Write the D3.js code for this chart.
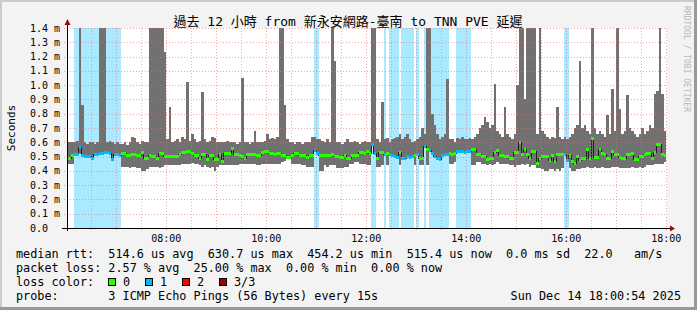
<!DOCTYPE html>
<html>
<head>
<meta charset="utf-8">
<script src="https://cdn.jsdelivr.net/npm/d3@7"></script>
<style>
	html, body { margin: 0; padding: 0; background: #f3f3f3; }
	svg text { font-family: "DejaVu Sans Mono", "Noto Sans CJK TC", monospace; white-space: pre; }
</style>
</head>
<body>
<svg id="chart" width="697" height="310"></svg>
<script>
// 3 minute steps, 06:00 -> 18:00 (240 samples), values in ms
var median = [
	.49,.49,.51,.518,.518,.567,.505,.50,.50,.50,.49,.513,.513,.525,.525,.53,.53,.525,.479,.513,
	.513,.51,.52,.52,.51,.51,.518,.518,.51,.51,.53,.49,.49,.51,.50,.50,.49,.52,.52,.50,
	.50,.50,.50,.50,.50,.518,.53,.53,.537,.537,.525,.505,.505,.49,.518,.518,.479,.505,.505,.48,
	.48,.518,.467,.52,.52,.52,.555,.518,.518,.51,.50,.49,.518,.518,.518,.518,.51,.51,.53,.537,
	.537,.525,.525,.518,.525,.525,.51,.51,.494,.494,.51,.525,.525,.51,.51,.51,.494,.505,.505,.54,
	.52,.51,.51,.51,.51,.51,.518,.50,.50,.494,.494,.51,.49,.49,.51,.51,.51,.53,.53,.525,
	.537,.525,.583,.52,.49,.53,.53,.515,.52,.515,.51,.50,.495,.53,.49,.49,.50,.495,.50,.51,
	.515,.49,.49,.57,.55,.54,.52,.50,.49,.48,.51,.515,.515,.525,.515,.52,.535,.535,.535,.53,
	.535,.535,.55,.548,.513,.518,.502,.502,.479,.485,.49,.532,.54,.509,.509,.502,.502,.49,.49,.532,
	.532,.60,.513,.548,.518,.49,.537,.537,.455,.485,.502,.502,.502,.472,.509,.467,.513,.513,.513,.513,
	.472,.509,.467,.455,.502,.472,.49,.49,.548,.485,.625,.495,.495,.548,.525,.518,.49,.49,.537,.513,
	.518,.495,.49,.49,.513,.513,.525,.479,.479,.502,.502,.513,.525,.525,.49,.532,.588,.588,.518,.509
];

var smokeLo = [
	.45,.45,.45,.518,.515,.52,.505,.50,.50,.50,.49,.513,.51,.52,.52,.53,.53,.52,.479,.51,
	.51,.51,.43,.43,.43,.42,.43,.43,.42,.42,.40,.40,.41,.43,.43,.43,.43,.42,.43,.44,
	.44,.44,.44,.44,.44,.44,.45,.45,.45,.45,.455,.45,.45,.44,.43,.44,.43,.42,.43,.40,
	.43,.44,.44,.44,.44,.44,.44,.44,.44,.45,.45,.45,.45,.45,.45,.45,.44,.44,.45,.45,
	.45,.45,.45,.45,.45,.45,.46,.47,.48,.48,.45,.45,.45,.45,.44,.44,.43,.43,.43,.54,
	.52,.40,.40,.44,.43,.44,.44,.44,.42,.42,.42,.43,.43,.45,.45,.46,.46,.45,.45,.45,
	.44,.44,.583,.52,.43,.43,.44,.515,.44,.515,.51,.50,.495,.44,.49,.49,.50,.495,.50,.44,
	.515,.44,.44,.57,.44,.54,.52,.50,.49,.48,.51,.515,.515,.45,.45,.46,.535,.535,.535,.53,
	.535,.535,.44,.44,.46,.46,.45,.45,.44,.45,.44,.45,.46,.45,.45,.45,.45,.44,.44,.43,
	.44,.44,.45,.44,.45,.43,.44,.44,.42,.42,.41,.40,.40,.41,.41,.40,.41,.40,.42,.513,
	.472,.42,.40,.40,.41,.41,.42,.42,.43,.42,.42,.43,.42,.42,.43,.42,.42,.42,.43,.43,
	.43,.42,.42,.42,.42,.42,.43,.42,.42,.43,.42,.43,.44,.44,.44,.45,.45,.45,.45,.46
];

// values above 1.4 are clipped by the canvas
var smokeHi = [
	.60,.60,.60,.60,.61,1.45,.86,.60,.59,.60,.60,.59,.60,1.45,1.45,1.45,.60,.61,.60,.59,
	.60,.59,.59,.60,.58,.60,.64,.63,.60,.59,.61,.60,.60,1.45,1.45,1.45,1.45,1.45,1.45,1.23,
	.62,.85,.60,.61,.62,.60,.64,.62,1.02,.61,.66,.62,.60,.61,.95,.62,.60,.61,.64,.63,
	.60,.60,.60,.60,.61,.60,.60,.60,.59,.60,1.05,.60,.60,.59,.60,.68,.60,.60,.60,.61,
	.66,.62,.63,.62,.64,1.45,1.45,.86,.62,.60,.60,.59,.60,.60,.59,.60,.60,.60,.64,.64,
	.62,.62,.61,.60,.62,.60,1.45,1.17,.60,.60,.59,.60,.62,.60,.60,.61,.60,.59,.60,.61,
	.60,.60,1.45,1.45,.62,.60,.88,.62,.63,.60,.62,.63,.64,.66,.62,.64,.66,.62,.60,.61,
	.62,.64,.70,.66,1.45,1.45,.80,.72,.66,.62,.64,.66,1.04,.62,.62,.60,.63,.62,.64,.62,
	.62,.63,.62,.64,.66,.70,.72,.78,.74,.70,.72,1.01,.68,.66,.64,.85,.66,.64,.62,.66,
	1.0,1.45,1.45,.90,1.45,1.45,1.45,1.45,.66,1.45,.68,.66,.64,.62,.64,.63,.85,.64,.62,.64,
	.62,.64,.66,.70,.72,1.17,.70,.72,.68,.66,1.45,.70,.66,.68,.66,.64,.79,.66,.97,.68,
	1.45,.83,.66,.68,.93,.70,.68,.66,.64,.66,.70,.66,.68,.72,.70,.94,.96,1.45,.94,.68
];

// lost pings out of 3
var loss = [
	0,0,0,1,1,1,1,1,1,1,1,1,1,1,1,1,1,1,1,1,
	1,1,0,0,0,0,0,0,0,0,0,0,0,0,0,0,0,0,0,0,
	0,0,0,0,0,0,0,0,0,0,0,0,0,0,0,0,0,0,0,0,
	0,0,0,0,0,0,0,0,0,0,0,0,0,0,0,0,0,0,0,0,
	0,0,0,0,0,0,0,0,0,0,0,0,0,0,0,0,0,0,0,1,
	1,0,0,0,0,0,0,0,0,0,0,0,0,0,0,0,0,0,0,0,
	0,0,1,1,0,0,0,1,0,1,1,1,1,0,1,1,1,1,1,0,
	1,0,0,1,0,1,1,1,1,1,1,1,1,0,0,0,1,1,1,1,
	1,1,0,0,0,0,0,0,0,0,0,0,0,0,0,0,0,0,0,0,
	0,0,0,0,0,0,0,0,0,0,0,0,0,0,0,0,0,0,0,1,
	1,0,0,0,0,0,0,0,0,0,0,0,0,0,0,0,0,0,0,0,
	0,0,0,0,0,0,0,0,0,0,0,0,0,0,0,0,0,0,0,0
];

var yTicks = [0, .1, .2, .3, .4, .5, .6, .7, .8, .9, 1.0, 1.1, 1.2, 1.3, 1.4];
var lossLabels = ['0', '1', '2', '3/3'];
var lossColors = ['#26ff00', '#00b8ff', '#ff0000', '#a00000'];
var lossBg = [null, '#aae9ff', '#ffaaaa', '#e0aaaa'];

var title = '過去 12 小時 from 新永安網路-臺南 to TNN PVE 延遲';
var legendRtt = 'median rtt:  514.6 us avg  630.7 us max  454.2 us min  515.4 us now  0.0 ms sd  22.0   am/s';
var legendLoss = 'packet loss: 2.57 % avg  25.00 % max  0.00 % min  0.00 % now';
var legendProbe = 'probe:       3 ICMP Echo Pings (56 Bytes) every 15s';
var stamp = 'Sun Dec 14 18:00:54 2025';

var T0 = Date.UTC(2025, 11, 14, 6, 0, 0),
	STEP = 180000,
	tStart = T0 + 54000,
	tEnd = T0 + 12 * 3600000 + 54000;

var svg = d3.select('#chart');

var x = d3.scaleUtc().domain([tStart, tEnd]).range([67, 667]);
var y = d3.scaleLinear().domain([0, 1.4]).range([228, 28]);

var data = median.map(function(m, i) {
	return {
		t0: Math.max(T0 + i * STEP, tStart),
		t1: T0 + (i + 1) * STEP,
		med: m, lo: smokeLo[i], hi: smokeHi[i], loss: loss[i]
	};
});

// frame
svg.append('rect').attr('width', 697).attr('height', 310).attr('fill', '#f3f3f3');
svg.append('rect').attr('x', 0).attr('y', 0).attr('width', 697).attr('height', 2).attr('fill', '#cbcbcb');
svg.append('rect').attr('x', 0).attr('y', 0).attr('width', 2).attr('height', 310).attr('fill', '#cbcbcb');
svg.append('rect').attr('x', 0).attr('y', 307).attr('width', 697).attr('height', 3).attr('fill', '#999');
svg.append('rect').attr('x', 694).attr('y', 0).attr('width', 3).attr('height', 310).attr('fill', '#999');

svg.append('defs').append('clipPath').attr('id', 'plot')
	.append('rect').attr('x', 67).attr('y', 28).attr('width', 600).attr('height', 200);

svg.append('rect').attr('x', 67).attr('y', 28).attr('width', 600).attr('height', 200).attr('fill', '#fff');

var plot = svg.append('g').attr('clip-path', 'url(#plot)').attr('shape-rendering', 'crispEdges');

// loss background
plot.append('g').selectAll('rect')
	.data(data.filter(function(d) { return d.loss > 0; }))
	.enter().append('rect')
	.attr('x', function(d) { return x(d.t0); })
	.attr('width', function(d) { return x(d.t1) - x(d.t0); })
	.attr('y', y(1.4))
	.attr('height', y(0) - y(1.4))
	.attr('fill', function(d) { return lossBg[d.loss]; });

// smoke
plot.append('g').selectAll('rect')
	.data(data)
	.enter().append('rect')
	.attr('x', function(d) { return x(d.t0); })
	.attr('width', function(d) { return x(d.t1) - x(d.t0); })
	.attr('y', function(d) { return y(d.hi); })
	.attr('height', function(d) { return y(d.lo) - y(d.hi); })
	.attr('fill', '#717171');

// grid
var gridTimes = d3.utcMinute.every(30).range(tStart, tEnd + 1);
var grid = svg.append('g').attr('shape-rendering', 'crispEdges');
grid.selectAll('line.v')
	.data(gridTimes)
	.enter().append('line')
	.attr('x1', function(d) { return Math.round(x(d)) + 0.5; })
	.attr('x2', function(d) { return Math.round(x(d)) + 0.5; })
	.attr('y1', 28).attr('y2', 231)
	.attr('stroke', function(d) { return d.getUTCMinutes() === 0 ? 'rgba(225,110,110,0.6)' : 'rgba(150,150,150,0.55)'; })
	.attr('stroke-dasharray', '1,2');

grid.selectAll('line.h')
	.data(yTicks.slice(1))
	.enter().append('line')
	.attr('x1', 64).attr('x2', 667)
	.attr('y1', function(d) { return Math.round(y(d)) + 0.5; })
	.attr('y2', function(d) { return Math.round(y(d)) + 0.5; })
	.attr('stroke', 'rgba(225,110,110,0.6)')
	.attr('stroke-dasharray', '1,2');

// median line + loss coloured marks
var line = d3.line()
	.x(function(d) { return x(d[0]); })
	.y(function(d) { return y(d[1]); })
	.curve(d3.curveStepAfter);

var medPts = data.map(function(d) { return [d.t0, d.med]; });
medPts.push([data[data.length - 1].t1, data[data.length - 1].med]);

plot.append('path')
	.attr('d', line(medPts))
	.attr('fill', 'none')
	.attr('stroke', '#202020')
	.attr('stroke-width', 1);

plot.append('g').selectAll('rect')
	.data(data)
	.enter().append('rect')
	.attr('x', function(d) { return x(d.t0); })
	.attr('width', function(d) { return x(d.t1) - x(d.t0); })
	.attr('y', function(d) { return y(d.med) - 1.5; })
	.attr('height', 3)
	.attr('fill', function(d) { return lossColors[d.loss]; });

// axes
svg.append('line').attr('x1', 62).attr('x2', 670).attr('y1', 228.5).attr('y2', 228.5).attr('stroke', '#000');
svg.append('line').attr('x1', 67.5).attr('x2', 67.5).attr('y1', 231).attr('y2', 24).attr('stroke', '#000');
svg.append('path').attr('d', 'M670,225.5 L675,228.5 L670,231.5 Z').attr('fill', '#8b1010');
svg.append('path').attr('d', 'M64.5,25 L67.5,19 L70.5,25 Z').attr('fill', '#8b1010');

svg.append('g').selectAll('text')
	.data(yTicks)
	.enter().append('text')
	.attr('x', 30)
	.attr('y', function(d) { return y(d) + 3.5; })
	.attr('font-size', '10px')
	.text(function(d) { return d3.format('.1f')(d) + (d > 0 ? ' m' : ''); });

svg.append('g').selectAll('text')
	.data(d3.utcHour.every(2).range(tStart, tEnd))
	.enter().append('text')
	.attr('x', function(d) { return x(d); })
	.attr('y', 242)
	.attr('text-anchor', 'middle')
	.attr('font-size', '10px')
	.text(d3.utcFormat('%H:%M'));

// titles
svg.append('text').attr('x', 348).attr('y', 26).attr('text-anchor', 'middle')
	.attr('font-size', '13px').text(title);

svg.append('text').attr('transform', 'translate(15,128) rotate(-90)')
	.attr('text-anchor', 'middle').attr('font-size', '11px').text('Seconds');

svg.append('text').attr('transform', 'translate(684,59) rotate(90)')
	.attr('text-anchor', 'middle').attr('font-size', '8px').attr('fill', '#b8b8b8')
	.text('RRDTOOL / TOBI OETIKER');

// legend
var legend = svg.append('g').attr('font-size', '11.8px');
legend.append('text').attr('x', 16).attr('y', 258).text(legendRtt);
legend.append('text').attr('x', 16).attr('y', 272).text(legendLoss);
legend.append('text').attr('x', 16).attr('y', 286).text('loss color:');
legend.append('text').attr('x', 16).attr('y', 300).text(legendProbe);
legend.append('text').attr('x', 681).attr('y', 300).attr('text-anchor', 'end').text(stamp);

var lg = legend.selectAll('g.key')
	.data(lossLabels)
	.enter().append('g')
	.attr('transform', function(d, i) { return 'translate(' + (108 + i * 37) + ',278)'; });
lg.append('rect').attr('x', 0.5).attr('y', 0.5).attr('width', 7).attr('height', 7)
	.attr('fill', function(d, i) { return lossColors[i]; }).attr('stroke', '#000');
lg.append('text').attr('x', 15).attr('y', 8).text(function(d) { return d; });
</script>
</body>
</html>
